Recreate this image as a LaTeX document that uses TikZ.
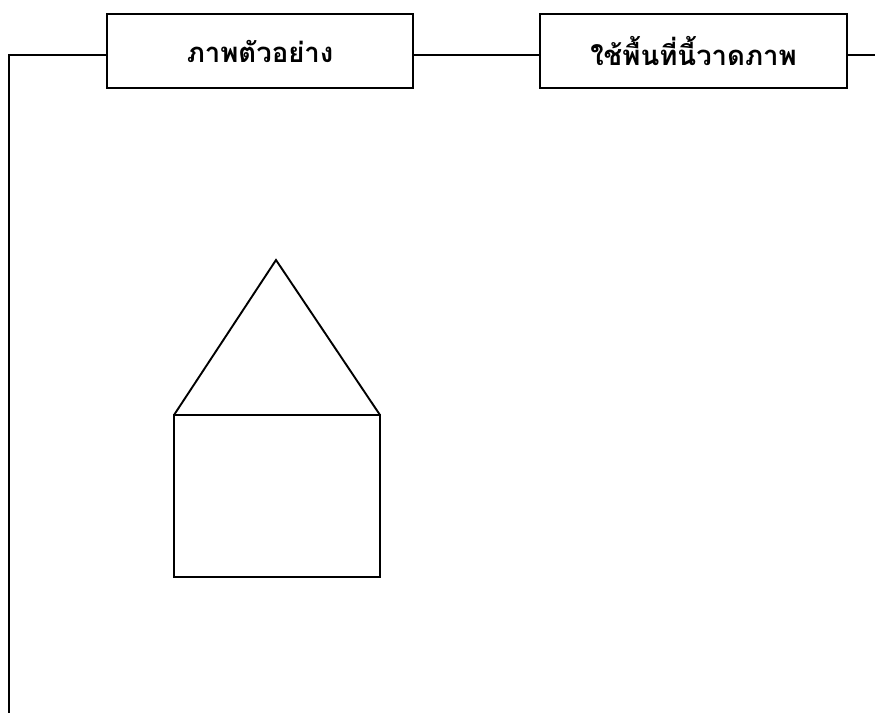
\documentclass[tikz,border=0pt]{standalone}
\usepackage{fontspec}
\newfontfamily\thaifont[Script=Thai]{Loma}
\usetikzlibrary{positioning}

\tikzset{
	titlebox/.style={draw,inner sep=0pt,minimum width=306pt,minimum height=74pt,font=\thaifont\bfseries\fontsize{27.5}{32}\selectfont},
}

\begin{document}
\begin{tikzpicture}[x=1pt,y=-1pt,line width=1.9pt]
	\useasboundingbox (0,0) rectangle (875,713);
	\node[titlebox] (sample) at (260,51) {ภาพตัวอย่าง};
	\node[titlebox,minimum width=307pt] (drawarea) at (693.5,51) {ใช้พื้นที่นี้วาดภาพ};
	\coordinate (corner) at (9,55);
	\coordinate (bottom) at (9,713);
	\coordinate (rim) at (875,55);
	\draw (sample.west |- corner) -- (corner) -- (bottom);
	\draw (sample.east |- corner) -- (drawarea.west |- corner);
	\draw (drawarea.east |- corner) -- (rim);
	% house
	\coordinate (apex) at (276,260);
	\coordinate (eaveL) at (174,415);
	\coordinate (eaveR) at (380,415);
	\coordinate (baseL) at (174,577);
	\draw (eaveL) -- (apex) -- (eaveR);
	\draw (baseL) rectangle (eaveR);
\end{tikzpicture}
\end{document}
